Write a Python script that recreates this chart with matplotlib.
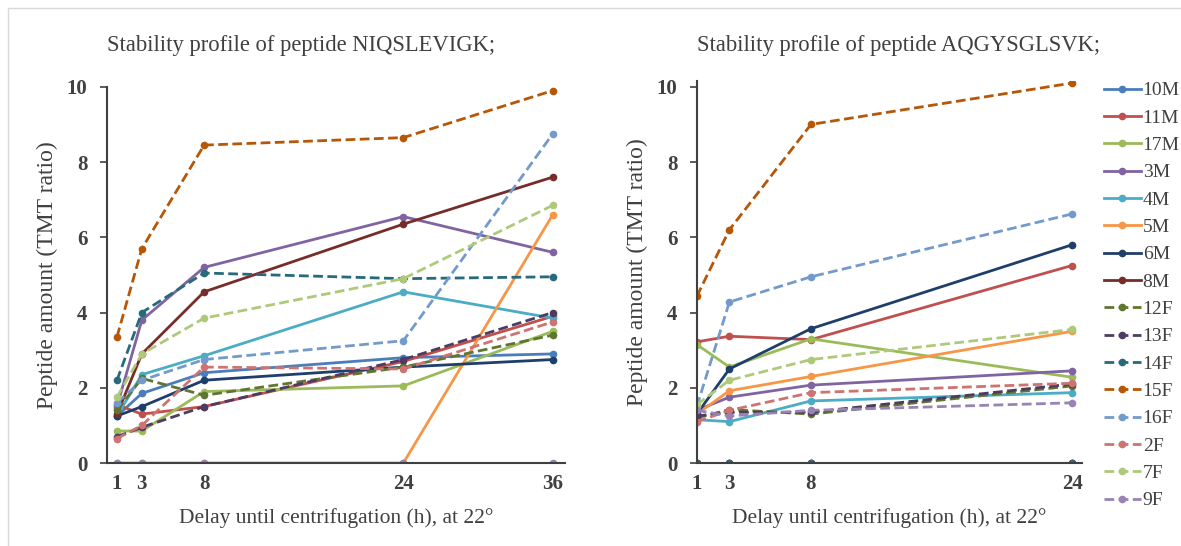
import matplotlib
matplotlib.use('Agg')
import matplotlib.pyplot as plt
from matplotlib.patches import Rectangle

plt.rcParams['font.family'] = ['Liberation Serif', 'DejaVu Serif']

# series names, colours and line style (solid = M, dashed = F)
names = ['10M', '11M', '17M', '3M', '4M', '5M', '6M', '8M',
         '12F', '13F', '14F', '15F', '16F', '2F', '7F', '9F']
colors = ['#4A7EBB', '#C0504D', '#9BBB59', '#8064A2', '#4BACC6', '#F79646', '#1F3F6B', '#772C2A',
          '#5F7530', '#4D3B62', '#276A7C', '#B65708', '#729ACA', '#CD7371', '#AFC97A', '#9983B5']

# peptide NIQSLEVIGK
hours_left = [1, 3, 8, 24, 36]
left_vals = {
    '10M': [1.25, 1.85, 2.40, 2.80, 2.90],
    '11M': [1.55, 1.30, 1.50, 2.70, 3.90],
    '17M': [0.85, 0.85, 1.90, 2.05, 3.50],
    '3M':  [1.50, 3.80, 5.20, 6.55, 5.60],
    '4M':  [1.25, 2.35, 2.85, 4.55, 3.85],
    '5M':  [0.00, 0.00, 0.00, 0.00, 6.60],
    '6M':  [1.25, 1.50, 2.20, 2.55, 2.75],
    '8M':  [1.30, 2.90, 4.55, 6.35, 7.60],
    '12F': [1.40, 2.25, 1.80, 2.55, 3.40],
    '13F': [0.70, 0.95, 1.50, 2.75, 4.00],
    '14F': [2.20, 4.00, 5.05, 4.90, 4.95],
    '15F': [3.35, 5.70, 8.45, 8.65, 9.90],
    '16F': [1.60, 2.20, 2.75, 3.25, 8.75],
    '2F':  [0.65, 1.00, 2.55, 2.50, 3.75],
    '7F':  [1.75, 2.90, 3.85, 4.90, 6.85],
    '9F':  [0.00, 0.00, 0.00, 0.00, 0.00],
}

# peptide AQGYSGLSVK
hours_right = [1, 3, 8, 24]
right_vals = {
    '10M': [0.00, 0.00, 0.00, 0.00],
    '11M': [3.22, 3.37, 3.28, 5.25],
    '17M': [3.15, 2.55, 3.30, 2.28],
    '3M':  [1.40, 1.75, 2.07, 2.45],
    '4M':  [1.15, 1.10, 1.65, 1.87],
    '5M':  [1.30, 1.92, 2.30, 3.50],
    '6M':  [1.30, 2.50, 3.57, 5.80],
    '8M':  [0.00, 0.00, 0.00, 0.00],
    '12F': [1.20, 1.42, 1.30, 2.05],
    '13F': [1.25, 1.35, 1.35, 2.10],
    '14F': [0.00, 0.00, 0.00, 0.00],
    '15F': [4.43, 6.20, 9.00, 10.10],
    '16F': [1.50, 4.28, 4.95, 6.62],
    '2F':  [1.10, 1.40, 1.87, 2.12],
    '7F':  [1.55, 2.20, 2.75, 3.55],
    '9F':  [1.40, 1.25, 1.40, 1.60],
}

text_col = '#404040'

fig = plt.figure(figsize=(11.81, 5.46), dpi=100)
fig.patches.append(Rectangle((0.007, -0.02), 1.1, 1.005, transform=fig.transFigure,
                             fill=False, edgecolor='#D9D9D9', lw=1))

ax1 = fig.add_axes([0.0906, 0.152, 0.388, 0.689])
ax2 = fig.add_axes([0.590, 0.152, 0.326, 0.689 * 10.15 / 10])


def draw(ax, hours, vals, xlim, ylim, xticks):
    handles = []
    for name, col in zip(names, colors):
        ls = '-' if name.endswith('M') else (0, (3.5, 1.6))
        h, = ax.plot(hours, vals[name], color=col, lw=2, ls=ls, marker='o', ms=4.5,
                     label=name)
        handles.append(h)
    ax.set_xlim(*xlim)
    ax.set_ylim(*ylim)
    ax.set_xticks(xticks)
    ax.set_yticks([0, 2, 4, 6, 8, 10])
    for s in ['top', 'right']:
        ax.spines[s].set_visible(False)
    for s in ['left', 'bottom']:
        ax.spines[s].set_color(text_col)
        ax.spines[s].set_linewidth(1.5)
    ax.tick_params(axis='x', length=0, pad=8, labelsize=15, colors=text_col)
    ax.tick_params(axis='y', length=5, width=1.2, pad=9, direction='out',
                   labelsize=15, colors=text_col)
    for lab in ax.get_xticklabels() + ax.get_yticklabels():
        lab.set_fontweight('bold')
    ax.set_xlabel('Delay until centrifugation (h), at 22°', fontsize=15.5, color=text_col, labelpad=10)
    ax.set_ylabel('Peptide amount (TMT ratio)', fontsize=17, color=text_col, labelpad=6)
    return handles


draw(ax1, hours_left, left_vals, (0.2, 37), (0, 10), hours_left)
handles = draw(ax2, hours_right, right_vals, (1, 24.6), (0, 10.15), hours_right)

fig.text(107 / 1181, 1 - 46 / 546, 'Stability profile of peptide NIQSLEVIGK;',
         fontsize=16.3, color=text_col, ha='left', va='center')
fig.text(697 / 1181, 1 - 46 / 546, 'Stability profile of peptide AQGYSGLSVK;',
         fontsize=16.3, color=text_col, ha='left', va='center')

fig.legend(handles=handles, loc='upper left', bbox_to_anchor=(1096 / 1181, 1 - 74 / 546),
           frameon=False, fontsize=14, handlelength=1.9, handletextpad=0.1,
           labelspacing=0.5, labelcolor=text_col, borderaxespad=0)

fig.savefig('out.png', dpi=100)
